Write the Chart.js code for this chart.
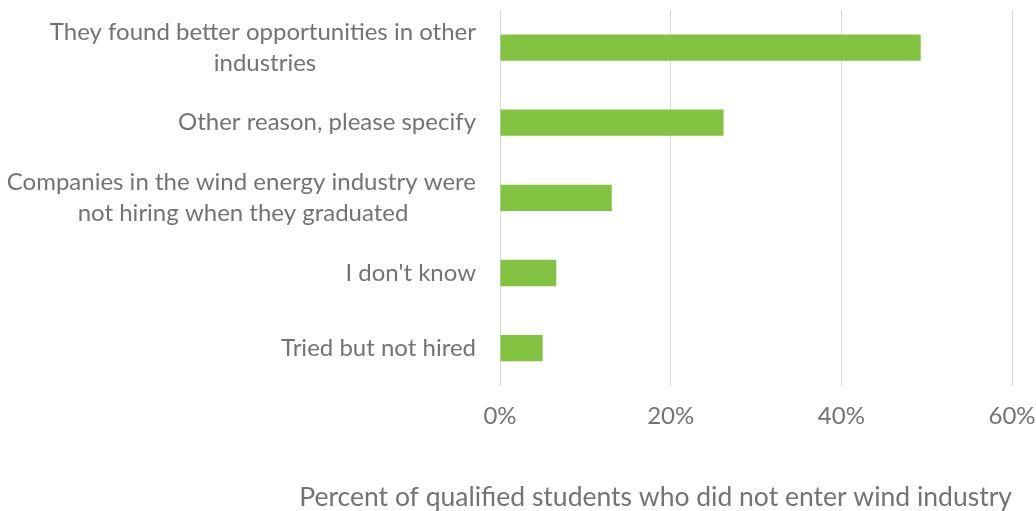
<!DOCTYPE html>
<html>
<head>
<meta charset="utf-8">
<script src="https://cdn.jsdelivr.net/npm/chart.js@4/dist/chart.umd.min.js"></script>
<style>
  html, body { margin: 0; padding: 0; background: #fff; }
  #wrap { width: 1036px; height: 511px; }
</style>
</head>
<body>
<div id="wrap"><canvas id="chart"></canvas></div>
<script>
// data
const categories = [
  ['They found better opportunities in other', 'industries'],
  'Other reason, please specify',
  ['Companies in the wind energy industry were', 'not hiring when they graduated'],
  "I don't know",
  'Tried but not hired'
];
const percents = [49.3, 26.2, 13.1, 6.6, 5.0];
const xTicks = [0, 20, 40, 60];
const axisTitle = 'Percent of qualified students who did not enter wind industry';

const fontFamily = 'Lato, "Liberation Sans", sans-serif';
const labelSize = 24;
const textColor = '#737373';

// Excel centres the lines of a wrapped label; Chart.js right-aligns them,
// so pad the shorter lines with trailing spaces to fake it
function centerLines(lines) {
  if (!Array.isArray(lines)) return lines;
  const ctx = document.createElement('canvas').getContext('2d');
  ctx.font = labelSize + 'px ' + fontFamily;
  const widths = lines.map(l => ctx.measureText(l).width);
  const maxW = Math.max(...widths);
  const spaceW = ctx.measureText(' ').width;
  return lines.map((l, i) => l + ' '.repeat(Math.round((maxW - widths[i]) / 2 / spaceW)));
}

const ctx = document.getElementById('chart').getContext('2d');
new Chart(ctx, {
  type: 'bar',
  data: {
    labels: categories,
    datasets: [{
      data: percents,
      backgroundColor: '#82c341',
      barPercentage: 0.35,
      categoryPercentage: 1
    }]
  },
  options: {
    indexAxis: 'y',
    responsive: true,
    maintainAspectRatio: false,
    animation: false,
    layout: { padding: { top: 10, right: 24, bottom: 0, left: 0 } },
    plugins: {
      legend: { display: false },
      tooltip: { enabled: false },
      // axis title drawn as chart title: a scale title gets squeezed to the scale width
      title: {
        display: true,
        position: 'bottom',
        align: 'end',
        text: axisTitle,
        color: textColor,
        font: { family: fontFamily, size: 26.5, weight: 'normal', lineHeight: 1 },
        padding: { top: 38, bottom: 0 }
      }
    },
    scales: {
      x: {
        min: 0,
        max: 60,
        afterBuildTicks: scale => { scale.ticks = xTicks.map(v => ({ value: v })); },
        afterFit: scale => {
          scale.paddingLeft = 0;
          scale.paddingRight = 0;
        },
        grid: { color: '#d9d9d9', lineWidth: 1, drawTicks: false },
        border: { display: false },
        ticks: {
          padding: 16,
          color: textColor,
          font: { family: fontFamily, size: labelSize },
          callback: v => v + '%'
        }
      },
      y: {
        afterFit: scale => {
          // fixed label column, and no extra room for the tall first label
          scale.width = 500;
          scale.paddingTop = 0;
          scale.paddingBottom = 0;
        },
        grid: { display: false, drawTicks: false },
        border: { display: false },
        ticks: {
          padding: 24,
          color: textColor,
          font: { family: fontFamily, size: labelSize, lineHeight: 1.3 },
          callback: function (v) { return centerLines(categories[v]); }
        }
      }
    }
  }
});
</script>
</body>
</html>
